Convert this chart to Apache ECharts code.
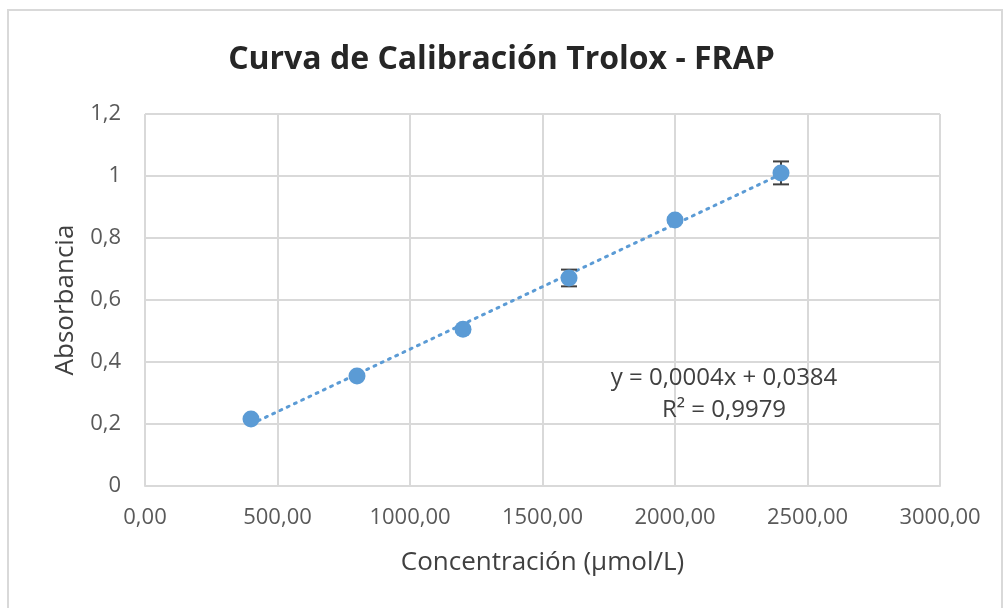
<!DOCTYPE html>
<html>
<head>
<meta charset="utf-8">
<script src="https://cdn.jsdelivr.net/npm/echarts@6/dist/echarts.min.js"></script>
<style>
  html, body { margin: 0; padding: 0; background: #fff; }
  #main { width: 1003px; height: 608px; }
</style>
</head>
<body>
<div id="main"></div>
<script>
// datos
const concentracion = [400, 800, 1200, 1600, 2000, 2400]
const absorbancia = [0.216, 0.355, 0.506, 0.671, 0.858, 1.01]
const errorAbs = [0.005, 0.005, 0.006, 0.027, 0.007, 0.037]
const ecuacion = ['y = 0,0004x + 0,0384', 'R² = 0,9979']

// recta de minimos cuadrados (linea de tendencia)
const n = concentracion.length
const mx = concentracion.reduce((a, b) => a + b, 0) / n
const my = absorbancia.reduce((a, b) => a + b, 0) / n
let sxy = 0, sxx = 0
for (let i = 0; i < n; i++) {
  sxy += (concentracion[i] - mx) * (absorbancia[i] - my)
  sxx += (concentracion[i] - mx) ** 2
}
const pendiente = sxy / sxx
const corte = my - pendiente * mx
const xMin = concentracion[0]
const xMax = concentracion[n - 1]
const tendencia = [[xMin, corte + pendiente * xMin], [xMax, corte + pendiente * xMax]]

const puntos = concentracion.map((x, i) => [x, absorbancia[i]])
const errores = concentracion.map((x, i) => [x, absorbancia[i] - errorAbs[i], absorbancia[i] + errorAbs[i]])

const fuente = '"Open Sans", "Noto Sans", sans-serif'
const gris = '#d9d9d9'
const azul = '#5b9bd5'

const myChart = echarts.init(document.getElementById('main'))
const option = {
  animation: false,
  backgroundColor: '#fff',
  title: {
    text: 'Curva de Calibración Trolox - FRAP',
    left: 'center',
    top: 39,
    textStyle: { fontFamily: fuente, fontSize: 32, fontWeight: 'bold', color: '#262626' }
  },
  grid: { left: 145, right: 63, top: 114, bottom: 122 },
  xAxis: {
    type: 'value',
    min: 0,
    max: 3000,
    interval: 500,
    name: 'Concentración (µmol/L)',
    nameLocation: 'middle',
    nameGap: 64,
    nameTextStyle: { fontFamily: fuente, fontSize: 26, color: '#404040' },
    axisLine: { lineStyle: { color: gris, width: 2 } },
    axisTick: { show: false },
    axisLabel: {
      fontFamily: fuente, fontSize: 22, color: '#595959', margin: 21,
      formatter: v => v.toFixed(2).replace('.', ',')
    },
    splitLine: { show: true, lineStyle: { color: gris, width: 2 } }
  },
  yAxis: {
    type: 'value',
    min: 0,
    max: 1.2,
    interval: 0.2,
    name: 'Absorbancia',
    nameLocation: 'middle',
    nameGap: 66,
    nameTextStyle: { fontFamily: fuente, fontSize: 26, color: '#404040' },
    axisLine: { show: false },
    axisTick: { show: false },
    axisLabel: {
      fontFamily: fuente, fontSize: 22, color: '#595959', margin: 24,
      formatter: v => String(Math.round(v * 10) / 10).replace('.', ',')
    },
    splitLine: { lineStyle: { color: gris, width: 2 } }
  },
  graphic: [
    {
      type: 'rect', z: -10, silent: true,
      shape: { x: 8, y: 10, width: 994, height: 620 },
      style: { fill: 'none', stroke: gris, lineWidth: 2 }
    },
    {
      type: 'text', x: 724, y: 378, z: 10,
      style: { text: ecuacion[0], fontFamily: fuente, fontSize: 24, fill: '#404040', align: 'center', verticalAlign: 'middle' }
    },
    {
      type: 'text', x: 724, y: 410, z: 10,
      style: { text: ecuacion[1], fontFamily: fuente, fontSize: 24, fill: '#404040', align: 'center', verticalAlign: 'middle' }
    }
  ],
  series: [
    {
      type: 'line',
      data: tendencia,
      symbol: 'none',
      lineStyle: { color: azul, width: 3, type: [2, 6], cap: 'round' },
      z: 2
    },
    {
      type: 'custom',
      data: errores,
      z: 3,
      renderItem: (params, api) => {
        const x = api.value(0)
        const bajo = api.coord([x, api.value(1)])
        const alto = api.coord([x, api.value(2)])
        const w = 8
        const estilo = { stroke: '#404040', lineWidth: 2 }
        return {
          type: 'group',
          children: [
            { type: 'line', shape: { x1: bajo[0], y1: bajo[1], x2: alto[0], y2: alto[1] }, style: estilo },
            { type: 'line', shape: { x1: bajo[0] - w, y1: bajo[1], x2: bajo[0] + w, y2: bajo[1] }, style: estilo },
            { type: 'line', shape: { x1: alto[0] - w, y1: alto[1], x2: alto[0] + w, y2: alto[1] }, style: estilo }
          ]
        }
      }
    },
    {
      type: 'scatter',
      data: puntos,
      symbol: 'circle',
      symbolSize: 17,
      itemStyle: { color: azul, opacity: 1 },
      z: 4
    }
  ]
}
myChart.setOption(option)
</script>
</body>
</html>
